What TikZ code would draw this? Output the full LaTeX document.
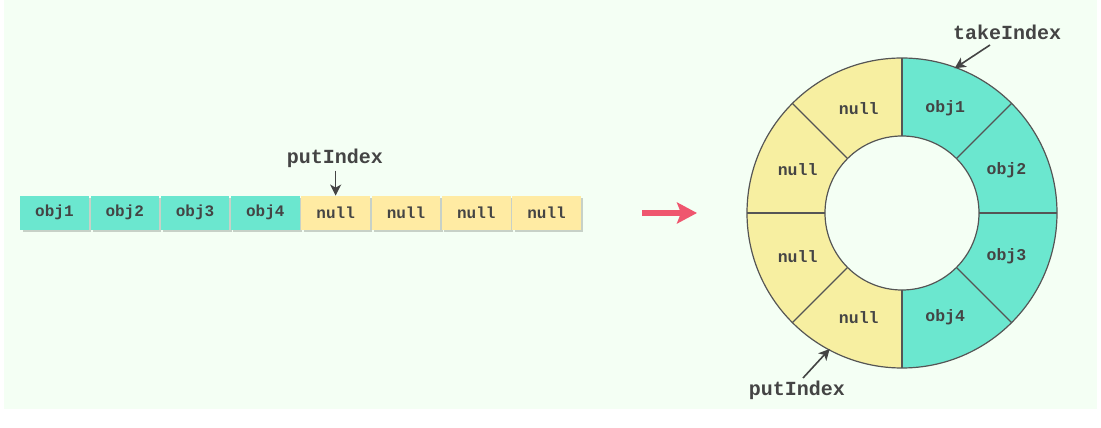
\documentclass[tikz,border=0pt]{standalone}
\usepackage{fontspec}
\setmonofont{Liberation Mono}
\usetikzlibrary{arrows.meta,calc}
\definecolor{bg}{HTML}{F4FFF4}
\definecolor{teal}{HTML}{6BE7CF}
\definecolor{cellyel}{HTML}{FFEBA3}
\definecolor{ringyel}{HTML}{F7EFA1}
\definecolor{ink}{HTML}{444444}
\definecolor{edge}{HTML}{555555}
\definecolor{redarrow}{HTML}{EF566E}
\tikzset{
  cellbox/.style={minimum width=68.5pt,minimum height=34pt,inner sep=0pt,font=\ttfamily\bfseries\fontsize{16}{16}\selectfont,text=ink},
  ringtext/.style={font=\ttfamily\bfseries\fontsize{16.5}{16.5}\selectfont,text=ink,inner sep=0pt},
  idxtext/.style={font=\ttfamily\bfseries\fontsize{20}{20}\selectfont,text=ink,inner sep=1pt},
  ptr/.style={draw=ink,line width=1.6pt,-{Stealth[length=11pt,width=11pt,inset=3pt]}},
  seg/.style={draw=edge,line width=1.2pt}
}
\begin{document}
\begin{tikzpicture}[x=1pt,y=1pt]
\useasboundingbox (0,0) rectangle (1101,428);
\fill[white] (0,0) rectangle (1101,428);
\fill[bg] (4,19) rectangle (1097,428);
% linear array
\foreach \i/\t/\c in {0/obj1/teal,1/obj2/teal,2/obj3/teal,3/obj4/teal,4/null/cellyel,5/null/cellyel,6/null/cellyel,7/null/cellyel}{
  \fill[black,opacity=0.18] ({20+\i*70.3+2.5},196) rectangle ({20+\i*70.3+68.5+2.5},229.5);
  \node[cellbox,fill=\c,anchor=south west] (c\i) at ({20+\i*70.3},198) {\t};
}
\node[idxtext] (put1) at (335,270) {putIndex};
\draw[ptr] (put1.south -| c4.north) ++(0,-2) coordinate (p1s) -- (c4.north);
% red arrow
\coordinate (ra) at (642,215);
\coordinate (rb) at (697,215);
\draw[redarrow,line width=6pt,-{Stealth[length=20pt,width=21pt,inset=4pt]}] (ra) -- (rb);
% ring
\coordinate (O) at (902,215);
\def\Ro{155}
\def\Ri{77}
\foreach \i/\c in {0/teal,1/teal,2/ringyel,3/ringyel,4/ringyel,5/ringyel,6/teal,7/teal}{
  \pgfmathsetmacro{\a}{\i*45}
  \pgfmathsetmacro{\b}{\i*45+45}
  \fill[\c] ($(O)+(\a:\Ri)$) -- ($(O)+(\a:\Ro)$) arc[start angle=\a,end angle=\b,radius=\Ro] -- ($(O)+(\b:\Ri)$) arc[start angle=\b,end angle=\a,radius=\Ri] -- cycle;
}
\foreach \i in {0,1,...,7}{
  \draw[seg] ($(O)+(\i*45:\Ri)$) -- ($(O)+(\i*45:\Ro)$);
}
\draw[seg] (O) circle[radius=\Ro];
\draw[seg] (O) circle[radius=\Ri];
\foreach \n/\ang/\t in {r1/67.5/obj1,r2/22.5/obj2,r3/-22.5/obj3,r4/-67.5/obj4,r5/-112.5/null,r6/-157.5/null,r7/157.5/null,r8/112.5/null}{
  \node[ringtext] (\n) at ($(O)+(\ang:113)$) {\t};
}
\node[idxtext] (take) at (1007,396) {takeIndex};
\coordinate (takept) at ($(O)+(70:154)$);
\draw[ptr] (990,383) -- (takept);
\node[idxtext] (put2) at (797,38) {putIndex};
\coordinate (putpt) at ($(O)+(-118:154)$);
\draw[ptr] (803,50) -- (putpt);
\end{tikzpicture}
\end{document}
